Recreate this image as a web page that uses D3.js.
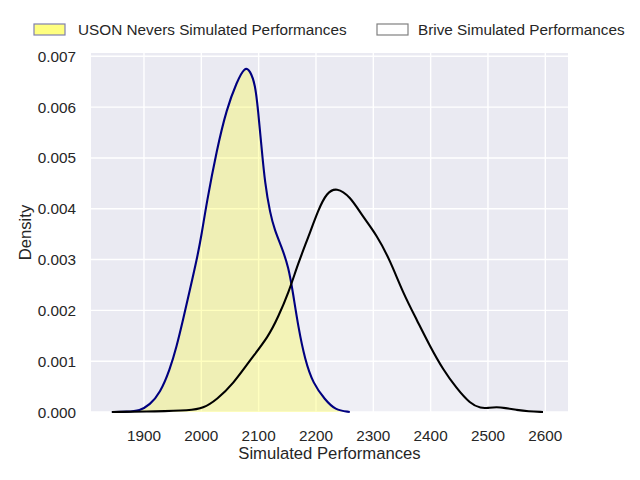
<!DOCTYPE html>
<html><head><meta charset="utf-8">
<script src="https://cdn.jsdelivr.net/npm/d3@7"></script>
<style>body{margin:0;background:#fff;} svg{display:block;font-family:"Liberation Sans",Arial,sans-serif;}</style>
</head><body>
<script>
const seriesNames = ["USON Nevers Simulated Performances", "Brive Simulated Performances"];
const usonX = [1844,1870,1893,1910,1928,1945,1957,1968,1980,1992,2001,2009,2027,2044,2062,2076,2085,2094,2099,2105,2111,2120,2128,2140,2152,2160,2169,2181,2195,2216,2233,2259];
const usonY = [0,0.000005,0.000026,0.00014,0.00037,0.00083,0.00129,0.00181,0.0024,0.00299,0.00352,0.0041,0.00516,0.00596,0.0065,0.0068,0.00672,0.00645,0.00594,0.00522,0.0045,0.00391,0.00358,0.00325,0.00286,0.00234,0.00168,0.00102,0.00056,0.00024,0.00004,0];
const briveX = [1844,1922,1980,2003,2027,2056,2085,2117,2134,2152,2169,2187,2204,2219,2236,2259,2282,2306,2329,2352,2376,2399,2422,2445,2469,2488,2500,2515,2530,2550,2570,2596];
const briveY = [0,0.00001,0.00003,0.00007,0.00024,0.00056,0.00102,0.00148,0.00187,0.00234,0.00293,0.00345,0.00398,0.00432,0.00442,0.00425,0.00384,0.00348,0.00299,0.00234,0.00181,0.00129,0.00083,0.00047,0.00016,0.00007,0.00008,0.0001,0.00008,0.00004,0.00001,0];
const xTicks = [1900,2000,2100,2200,2300,2400,2500,2600];
const yTicks = [0,0.001,0.002,0.003,0.004,0.005,0.006,0.007];

const W = 640, H = 480;
const L = 91, R = 568, T = 53, B = 412;
const svg = d3.select("body").append("svg").attr("width", W).attr("height", H);
const x = d3.scaleLinear().domain([1807.6, 2639.6]).range([L, R]);
const y = d3.scaleLinear().domain([0, 0.007065]).range([B, T]);

svg.append("rect").attr("x", L).attr("y", T).attr("width", R - L).attr("height", B - T).attr("fill", "#eaeaf2");

// grid
svg.append("g").selectAll("line").data(xTicks).join("line")
  .attr("x1", d => x(d)).attr("x2", d => x(d)).attr("y1", T).attr("y2", B)
  .attr("stroke", "#fff").attr("stroke-width", 1.4);
svg.append("g").selectAll("line").data(yTicks).join("line")
  .attr("y1", d => y(d)).attr("y2", d => y(d)).attr("x1", L).attr("x2", R)
  .attr("stroke", "#fff").attr("stroke-width", 1.4);

const uson = usonX.map((v, i) => [v, usonY[i]]);
const brive = briveX.map((v, i) => [v, briveY[i]]);
const cv = d3.curveBasis;
const area = d3.area().x(d => x(d[0])).y0(y(0)).y1(d => y(d[1])).curve(cv);
const line = d3.line().x(d => x(d[0])).y(d => y(d[1])).curve(cv);

svg.append("path").datum(brive).attr("d", area).attr("fill", "#ffffff").attr("fill-opacity", 0.25);
svg.append("path").datum(uson).attr("d", area).attr("fill", "#ffff00").attr("fill-opacity", 0.25);
svg.append("path").datum(uson).attr("d", line).attr("fill", "none").attr("stroke", "#000080").attr("stroke-width", 2.1);
svg.append("path").datum(brive).attr("d", line).attr("fill", "none").attr("stroke", "#000000").attr("stroke-width", 2.1);

// axes labels
const tc = "#262626";
svg.append("g").selectAll("text").data(xTicks).join("text")
  .attr("x", d => x(d)).attr("y", 441).attr("text-anchor", "middle")
  .attr("font-size", "15.3px").attr("fill", tc).text(d => d);
svg.append("g").selectAll("text").data(yTicks).join("text")
  .attr("x", 76).attr("y", d => y(d) + 5.5).attr("text-anchor", "end")
  .attr("font-size", "15.3px").attr("fill", tc).text(d => d3.format(".3f")(d));
svg.append("text").attr("x", (L + R) / 2).attr("y", 459).attr("text-anchor", "middle")
  .attr("font-size", "16.67px").attr("fill", tc).text("Simulated Performances");
svg.append("text").attr("transform", `translate(31,${(T + B) / 2}) rotate(-90)`).attr("text-anchor", "middle")
  .attr("font-size", "16.67px").attr("fill", tc).text("Density");

// legend
const leg = [
  {name: seriesNames[0], px: 34, tx: 78, fill: "#ffff80", stroke: "#8080b0"},
  {name: seriesNames[1], px: 377, tx: 418, fill: "#ffffff", stroke: "#808080"}
];
const lg = svg.append("g").selectAll("g").data(leg).join("g");
lg.append("rect").attr("x", d => d.px).attr("y", 24).attr("width", 31).attr("height", 11)
  .attr("fill", d => d.fill).attr("stroke", d => d.stroke).attr("stroke-width", 1.2);
lg.append("text").attr("x", d => d.tx).attr("y", 35).attr("font-size", "15.3px").attr("fill", tc).text(d => d.name);
</script>
</body></html>
